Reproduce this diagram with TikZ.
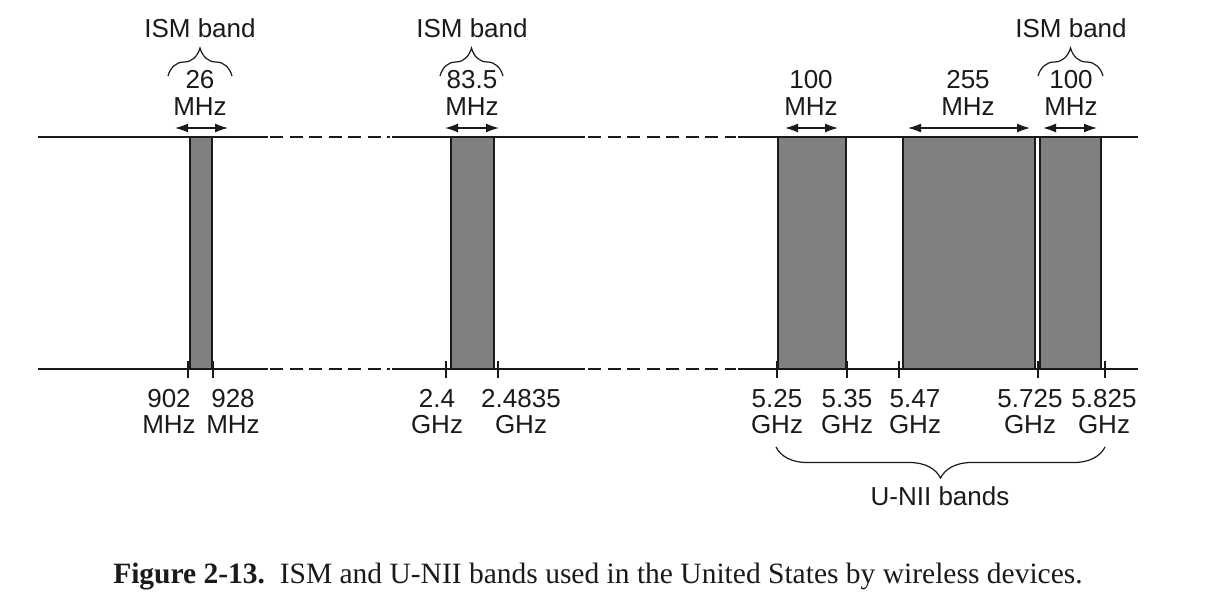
\documentclass[tikz,border=0pt]{standalone}
\usepackage{fontspec}
\setmainfont{Liberation Sans}
\newfontfamily\capfont{Liberation Serif}
\usetikzlibrary{arrows.meta,decorations.pathreplacing}
\definecolor{bargray}{HTML}{808080}
\definecolor{ink}{HTML}{1A1A1A}
\begin{document}
\begin{tikzpicture}[x=1pt,y=-1pt,
  lbl/.style={font=\fontsize{26}{30}\selectfont, inner sep=0pt, anchor=base, text=ink},
  axisline/.style={line width=1.4pt, draw=ink},
  dashseg/.style={axisline, dash pattern=on 13pt off 6.5pt},
  barbox/.style={draw=ink, fill=bargray, line width=1.5pt},
  dimarrow/.style={{Latex[length=13pt,width=9pt]}-{Latex[length=13pt,width=9pt]}, line width=1.3pt, draw=ink},
  tickmark/.style={line width=1.3pt, draw=ink},
  upbrace/.style={decorate, decoration={brace, amplitude=28pt}, line width=1.2pt, draw=ink},
]
\useasboundingbox (0,0) rectangle (1207,600);

% axis lines
\foreach \yy in {137,369} {
  \draw[axisline] (38,\yy) -- (268,\yy);
  \draw[dashseg] (270,\yy) -- (390,\yy);
  \draw[axisline] (392,\yy) -- (585,\yy);
  \draw[dashseg] (588,\yy) -- (736,\yy);
  \draw[axisline] (738,\yy) -- (1138,\yy);
}

% bars
\draw[barbox] (190,137) rectangle (212,369);
\draw[barbox] (451,137) rectangle (494,369);
\draw[barbox] (778,137) rectangle (846,369);
\draw[barbox] (903,137) rectangle (1035,369);
\draw[barbox] (1040,137) rectangle (1101,369);

% ticks
\foreach \xx in {188,213,446,498,777,847,899,1038,1105} {
  \draw[tickmark] (\xx,361) -- (\xx,378);
}

% dimension arrows
\coordinate (a1l) at (175,128); \coordinate (a1r) at (228,128);
\coordinate (a2l) at (445,128); \coordinate (a2r) at (499,128);
\coordinate (a3l) at (785,128); \coordinate (a3r) at (838,128);
\coordinate (a4l) at (908,128); \coordinate (a4r) at (1030,128);
\coordinate (a5l) at (1043,128); \coordinate (a5r) at (1097,128);
\draw[dimarrow] (a1l) -- (a1r);
\draw[dimarrow] (a2l) -- (a2r);
\draw[dimarrow] (a3l) -- (a3r);
\draw[dimarrow] (a4l) -- (a4r);
\draw[dimarrow] (a5l) -- (a5r);

% top labels
\node[lbl] (ism1) at (200,37) {ISM band};
\node[lbl] (ism2) at (472,37) {ISM band};
\node[lbl] (ism3) at (1071,37) {ISM band};
\node[lbl] (w1) at (200,88) {26};
\node[lbl] (u1) at (200,115) {MHz};
\node[lbl] (w2) at (472,88) {83.5};
\node[lbl] (u2) at (472,115) {MHz};
\node[lbl] (w3) at (811,88) {100};
\node[lbl] (u3) at (811,115) {MHz};
\node[lbl] (w4) at (968,88) {255};
\node[lbl] (u4) at (968,115) {MHz};
\node[lbl] (w5) at (1071,88) {100};
\node[lbl] (u5) at (1071,115) {MHz};

% top braces
\coordinate (b1l) at (168,76); \coordinate (b1r) at (232,76);
\coordinate (b2l) at (440,76); \coordinate (b2r) at (503,76);
\coordinate (b3l) at (1038,76); \coordinate (b3r) at (1103,76);
\draw[upbrace] (b1l) -- (b1r);
\draw[upbrace] (b2l) -- (b2r);
\draw[upbrace] (b3l) -- (b3r);

% bottom labels
\node[lbl] (f1) at (169,407) {902};
\node[lbl] (g1) at (169,433) {MHz};
\node[lbl] (f2) at (233,407) {928};
\node[lbl] (g2) at (233,433) {MHz};
\node[lbl] (f3) at (437,407) {2.4};
\node[lbl] (g3) at (437,433) {GHz};
\node[lbl] (f4) at (521,407) {2.4835};
\node[lbl] (g4) at (521,433) {GHz};
\node[lbl] (f5) at (777,407) {5.25};
\node[lbl] (g5) at (777,433) {GHz};
\node[lbl] (f6) at (847,407) {5.35};
\node[lbl] (g6) at (847,433) {GHz};
\node[lbl] (f7) at (915,407) {5.47};
\node[lbl] (g7) at (915,433) {GHz};
\node[lbl] (f8) at (1030,407) {5.725};
\node[lbl] (g8) at (1030,433) {GHz};
\node[lbl] (f9) at (1104,407) {5.825};
\node[lbl] (g9) at (1104,433) {GHz};

% bottom brace
\coordinate (ubl) at (776,447); \coordinate (ubr) at (1105,447);
\draw[upbrace, decoration={brace, amplitude=31pt}] (ubr) -- (ubl);
\node[lbl] (unii) at (940,505) {U-NII bands};

% caption
\node[inner sep=0pt, anchor=base, font=\capfont\fontsize{29.5}{34}\selectfont, text=ink] (cap) at (598,583)
  {\textbf{Figure 2-13.}\ \ ISM and U-NII bands used in the United States by wireless devices.};
\end{tikzpicture}
\end{document}
